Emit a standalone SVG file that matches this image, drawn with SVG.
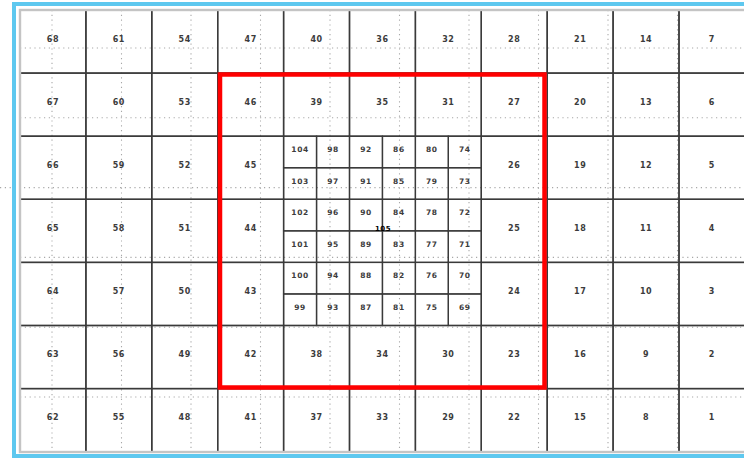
<svg xmlns="http://www.w3.org/2000/svg" width="744" height="461" viewBox="0 0 744 461">
<style>
.cell rect{fill:none;stroke:#3a3a3a;stroke-width:1.4}
.cell text{font-family:"DejaVu Sans","Liberation Sans",sans-serif;font-size:8px;font-weight:bold;fill:#3c3c3c;text-anchor:middle;letter-spacing:0.6px}
.sub rect{fill:none;stroke:#3a3a3a;stroke-width:1.3}
.sub text{font-family:"DejaVu Sans","Liberation Sans",sans-serif;font-size:7.5px;font-weight:bold;fill:#3c3c3c;text-anchor:middle;letter-spacing:0.6px}
.dot{stroke:#a8a8a8;stroke-width:1.1;stroke-dasharray:1.2 3.6;fill:none}
</style>
<rect x="0" y="0" width="744" height="461" fill="#ffffff"/>
<g id="background-grid">
<path class="dot" d="M52 10V452M121.5 10V452M191 10V452M260.5 10V452M330 10V452M399.5 10V452M469 10V452M538.5 10V452M608 10V452M677.5 10V452"/>
<path class="dot" d="M20 48H744M20 117.8H744M0 187.6H744M20 257.4H744M20 327.2H744M20 397H744"/>
</g>
<g id="cells">
<g id="cell-68" class="cell"><rect x="20" y="10" width="65.9" height="63.1"/><text x="52.95" y="42">68</text></g>
<g id="cell-67" class="cell"><rect x="20" y="73.1" width="65.9" height="63.1"/><text x="52.95" y="105">67</text></g>
<g id="cell-66" class="cell"><rect x="20" y="136.2" width="65.9" height="63.1"/><text x="52.95" y="168">66</text></g>
<g id="cell-65" class="cell"><rect x="20" y="199.3" width="65.9" height="63.1"/><text x="52.95" y="231">65</text></g>
<g id="cell-64" class="cell"><rect x="20" y="262.4" width="65.9" height="63.1"/><text x="52.95" y="294">64</text></g>
<g id="cell-63" class="cell"><rect x="20" y="325.5" width="65.9" height="63.1"/><text x="52.95" y="357">63</text></g>
<g id="cell-62" class="cell"><rect x="20" y="388.6" width="65.9" height="63.1"/><text x="52.95" y="420">62</text></g>

<g id="cell-61" class="cell"><rect x="85.9" y="10" width="65.9" height="63.1"/><text x="118.85" y="42">61</text></g>
<g id="cell-60" class="cell"><rect x="85.9" y="73.1" width="65.9" height="63.1"/><text x="118.85" y="105">60</text></g>
<g id="cell-59" class="cell"><rect x="85.9" y="136.2" width="65.9" height="63.1"/><text x="118.85" y="168">59</text></g>
<g id="cell-58" class="cell"><rect x="85.9" y="199.3" width="65.9" height="63.1"/><text x="118.85" y="231">58</text></g>
<g id="cell-57" class="cell"><rect x="85.9" y="262.4" width="65.9" height="63.1"/><text x="118.85" y="294">57</text></g>
<g id="cell-56" class="cell"><rect x="85.9" y="325.5" width="65.9" height="63.1"/><text x="118.85" y="357">56</text></g>
<g id="cell-55" class="cell"><rect x="85.9" y="388.6" width="65.9" height="63.1"/><text x="118.85" y="420">55</text></g>

<g id="cell-54" class="cell"><rect x="151.8" y="10" width="65.9" height="63.1"/><text x="184.75" y="42">54</text></g>
<g id="cell-53" class="cell"><rect x="151.8" y="73.1" width="65.9" height="63.1"/><text x="184.75" y="105">53</text></g>
<g id="cell-52" class="cell"><rect x="151.8" y="136.2" width="65.9" height="63.1"/><text x="184.75" y="168">52</text></g>
<g id="cell-51" class="cell"><rect x="151.8" y="199.3" width="65.9" height="63.1"/><text x="184.75" y="231">51</text></g>
<g id="cell-50" class="cell"><rect x="151.8" y="262.4" width="65.9" height="63.1"/><text x="184.75" y="294">50</text></g>
<g id="cell-49" class="cell"><rect x="151.8" y="325.5" width="65.9" height="63.1"/><text x="184.75" y="357">49</text></g>
<g id="cell-48" class="cell"><rect x="151.8" y="388.6" width="65.9" height="63.1"/><text x="184.75" y="420">48</text></g>

<g id="cell-47" class="cell"><rect x="217.7" y="10" width="65.9" height="63.1"/><text x="250.65" y="42">47</text></g>
<g id="cell-46" class="cell"><rect x="217.7" y="73.1" width="65.9" height="63.1"/><text x="250.65" y="105">46</text></g>
<g id="cell-45" class="cell"><rect x="217.7" y="136.2" width="65.9" height="63.1"/><text x="250.65" y="168">45</text></g>
<g id="cell-44" class="cell"><rect x="217.7" y="199.3" width="65.9" height="63.1"/><text x="250.65" y="231">44</text></g>
<g id="cell-43" class="cell"><rect x="217.7" y="262.4" width="65.9" height="63.1"/><text x="250.65" y="294">43</text></g>
<g id="cell-42" class="cell"><rect x="217.7" y="325.5" width="65.9" height="63.1"/><text x="250.65" y="357">42</text></g>
<g id="cell-41" class="cell"><rect x="217.7" y="388.6" width="65.9" height="63.1"/><text x="250.65" y="420">41</text></g>

<g id="cell-40" class="cell"><rect x="283.6" y="10" width="65.9" height="63.1"/><text x="316.55" y="42">40</text></g>
<g id="cell-39" class="cell"><rect x="283.6" y="73.1" width="65.9" height="63.1"/><text x="316.55" y="105">39</text></g>
<g id="cell-38" class="cell"><rect x="283.6" y="325.5" width="65.9" height="63.1"/><text x="316.55" y="357">38</text></g>
<g id="cell-37" class="cell"><rect x="283.6" y="388.6" width="65.9" height="63.1"/><text x="316.55" y="420">37</text></g>

<g id="cell-36" class="cell"><rect x="349.5" y="10" width="65.9" height="63.1"/><text x="382.45" y="42">36</text></g>
<g id="cell-35" class="cell"><rect x="349.5" y="73.1" width="65.9" height="63.1"/><text x="382.45" y="105">35</text></g>
<g id="cell-34" class="cell"><rect x="349.5" y="325.5" width="65.9" height="63.1"/><text x="382.45" y="357">34</text></g>
<g id="cell-33" class="cell"><rect x="349.5" y="388.6" width="65.9" height="63.1"/><text x="382.45" y="420">33</text></g>

<g id="cell-32" class="cell"><rect x="415.4" y="10" width="65.9" height="63.1"/><text x="448.35" y="42">32</text></g>
<g id="cell-31" class="cell"><rect x="415.4" y="73.1" width="65.9" height="63.1"/><text x="448.35" y="105">31</text></g>
<g id="cell-30" class="cell"><rect x="415.4" y="325.5" width="65.9" height="63.1"/><text x="448.35" y="357">30</text></g>
<g id="cell-29" class="cell"><rect x="415.4" y="388.6" width="65.9" height="63.1"/><text x="448.35" y="420">29</text></g>

<g id="cell-28" class="cell"><rect x="481.3" y="10" width="65.9" height="63.1"/><text x="514.25" y="42">28</text></g>
<g id="cell-27" class="cell"><rect x="481.3" y="73.1" width="65.9" height="63.1"/><text x="514.25" y="105">27</text></g>
<g id="cell-26" class="cell"><rect x="481.3" y="136.2" width="65.9" height="63.1"/><text x="514.25" y="168">26</text></g>
<g id="cell-25" class="cell"><rect x="481.3" y="199.3" width="65.9" height="63.1"/><text x="514.25" y="231">25</text></g>
<g id="cell-24" class="cell"><rect x="481.3" y="262.4" width="65.9" height="63.1"/><text x="514.25" y="294">24</text></g>
<g id="cell-23" class="cell"><rect x="481.3" y="325.5" width="65.9" height="63.1"/><text x="514.25" y="357">23</text></g>
<g id="cell-22" class="cell"><rect x="481.3" y="388.6" width="65.9" height="63.1"/><text x="514.25" y="420">22</text></g>

<g id="cell-21" class="cell"><rect x="547.2" y="10" width="65.9" height="63.1"/><text x="580.15" y="42">21</text></g>
<g id="cell-20" class="cell"><rect x="547.2" y="73.1" width="65.9" height="63.1"/><text x="580.15" y="105">20</text></g>
<g id="cell-19" class="cell"><rect x="547.2" y="136.2" width="65.9" height="63.1"/><text x="580.15" y="168">19</text></g>
<g id="cell-18" class="cell"><rect x="547.2" y="199.3" width="65.9" height="63.1"/><text x="580.15" y="231">18</text></g>
<g id="cell-17" class="cell"><rect x="547.2" y="262.4" width="65.9" height="63.1"/><text x="580.15" y="294">17</text></g>
<g id="cell-16" class="cell"><rect x="547.2" y="325.5" width="65.9" height="63.1"/><text x="580.15" y="357">16</text></g>
<g id="cell-15" class="cell"><rect x="547.2" y="388.6" width="65.9" height="63.1"/><text x="580.15" y="420">15</text></g>

<g id="cell-14" class="cell"><rect x="613.1" y="10" width="65.9" height="63.1"/><text x="646.05" y="42">14</text></g>
<g id="cell-13" class="cell"><rect x="613.1" y="73.1" width="65.9" height="63.1"/><text x="646.05" y="105">13</text></g>
<g id="cell-12" class="cell"><rect x="613.1" y="136.2" width="65.9" height="63.1"/><text x="646.05" y="168">12</text></g>
<g id="cell-11" class="cell"><rect x="613.1" y="199.3" width="65.9" height="63.1"/><text x="646.05" y="231">11</text></g>
<g id="cell-10" class="cell"><rect x="613.1" y="262.4" width="65.9" height="63.1"/><text x="646.05" y="294">10</text></g>
<g id="cell-9" class="cell"><rect x="613.1" y="325.5" width="65.9" height="63.1"/><text x="646.05" y="357">9</text></g>
<g id="cell-8" class="cell"><rect x="613.1" y="388.6" width="65.9" height="63.1"/><text x="646.05" y="420">8</text></g>

<g id="cell-7" class="cell"><rect x="679" y="10" width="65.9" height="63.1"/><text x="711.95" y="42">7</text></g>
<g id="cell-6" class="cell"><rect x="679" y="73.1" width="65.9" height="63.1"/><text x="711.95" y="105">6</text></g>
<g id="cell-5" class="cell"><rect x="679" y="136.2" width="65.9" height="63.1"/><text x="711.95" y="168">5</text></g>
<g id="cell-4" class="cell"><rect x="679" y="199.3" width="65.9" height="63.1"/><text x="711.95" y="231">4</text></g>
<g id="cell-3" class="cell"><rect x="679" y="262.4" width="65.9" height="63.1"/><text x="711.95" y="294">3</text></g>
<g id="cell-2" class="cell"><rect x="679" y="325.5" width="65.9" height="63.1"/><text x="711.95" y="357">2</text></g>
<g id="cell-1" class="cell"><rect x="679" y="388.6" width="65.9" height="63.1"/><text x="711.95" y="420">1</text></g>
</g>
<g id="subcells">
<g id="sub-104" class="sub"><rect x="283.6" y="136.2" width="32.95" height="31.55"/><text x="300.08" y="152">104</text></g>
<g id="sub-103" class="sub"><rect x="283.6" y="167.75" width="32.95" height="31.55"/><text x="300.08" y="184">103</text></g>
<g id="sub-102" class="sub"><rect x="283.6" y="199.3" width="32.95" height="31.55"/><text x="300.08" y="215">102</text></g>
<g id="sub-101" class="sub"><rect x="283.6" y="230.85" width="32.95" height="31.55"/><text x="300.08" y="247">101</text></g>
<g id="sub-100" class="sub"><rect x="283.6" y="262.4" width="32.95" height="31.55"/><text x="300.08" y="278">100</text></g>
<g id="sub-99" class="sub"><rect x="283.6" y="293.95" width="32.95" height="31.55"/><text x="300.08" y="310">99</text></g>

<g id="sub-98" class="sub"><rect x="316.55" y="136.2" width="32.95" height="31.55"/><text x="333.03" y="152">98</text></g>
<g id="sub-97" class="sub"><rect x="316.55" y="167.75" width="32.95" height="31.55"/><text x="333.03" y="184">97</text></g>
<g id="sub-96" class="sub"><rect x="316.55" y="199.3" width="32.95" height="31.55"/><text x="333.03" y="215">96</text></g>
<g id="sub-95" class="sub"><rect x="316.55" y="230.85" width="32.95" height="31.55"/><text x="333.03" y="247">95</text></g>
<g id="sub-94" class="sub"><rect x="316.55" y="262.4" width="32.95" height="31.55"/><text x="333.03" y="278">94</text></g>
<g id="sub-93" class="sub"><rect x="316.55" y="293.95" width="32.95" height="31.55"/><text x="333.03" y="310">93</text></g>

<g id="sub-92" class="sub"><rect x="349.5" y="136.2" width="32.95" height="31.55"/><text x="365.98" y="152">92</text></g>
<g id="sub-91" class="sub"><rect x="349.5" y="167.75" width="32.95" height="31.55"/><text x="365.98" y="184">91</text></g>
<g id="sub-90" class="sub"><rect x="349.5" y="199.3" width="32.95" height="31.55"/><text x="365.98" y="215">90</text></g>
<g id="sub-89" class="sub"><rect x="349.5" y="230.85" width="32.95" height="31.55"/><text x="365.98" y="247">89</text></g>
<g id="sub-88" class="sub"><rect x="349.5" y="262.4" width="32.95" height="31.55"/><text x="365.98" y="278">88</text></g>
<g id="sub-87" class="sub"><rect x="349.5" y="293.95" width="32.95" height="31.55"/><text x="365.98" y="310">87</text></g>

<g id="sub-86" class="sub"><rect x="382.45" y="136.2" width="32.95" height="31.55"/><text x="398.93" y="152">86</text></g>
<g id="sub-85" class="sub"><rect x="382.45" y="167.75" width="32.95" height="31.55"/><text x="398.93" y="184">85</text></g>
<g id="sub-84" class="sub"><rect x="382.45" y="199.3" width="32.95" height="31.55"/><text x="398.93" y="215">84</text></g>
<g id="sub-83" class="sub"><rect x="382.45" y="230.85" width="32.95" height="31.55"/><text x="398.93" y="247">83</text></g>
<g id="sub-82" class="sub"><rect x="382.45" y="262.4" width="32.95" height="31.55"/><text x="398.93" y="278">82</text></g>
<g id="sub-81" class="sub"><rect x="382.45" y="293.95" width="32.95" height="31.55"/><text x="398.93" y="310">81</text></g>

<g id="sub-80" class="sub"><rect x="415.4" y="136.2" width="32.95" height="31.55"/><text x="431.88" y="152">80</text></g>
<g id="sub-79" class="sub"><rect x="415.4" y="167.75" width="32.95" height="31.55"/><text x="431.88" y="184">79</text></g>
<g id="sub-78" class="sub"><rect x="415.4" y="199.3" width="32.95" height="31.55"/><text x="431.88" y="215">78</text></g>
<g id="sub-77" class="sub"><rect x="415.4" y="230.85" width="32.95" height="31.55"/><text x="431.88" y="247">77</text></g>
<g id="sub-76" class="sub"><rect x="415.4" y="262.4" width="32.95" height="31.55"/><text x="431.88" y="278">76</text></g>
<g id="sub-75" class="sub"><rect x="415.4" y="293.95" width="32.95" height="31.55"/><text x="431.88" y="310">75</text></g>

<g id="sub-74" class="sub"><rect x="448.35" y="136.2" width="32.95" height="31.55"/><text x="464.83" y="152">74</text></g>
<g id="sub-73" class="sub"><rect x="448.35" y="167.75" width="32.95" height="31.55"/><text x="464.83" y="184">73</text></g>
<g id="sub-72" class="sub"><rect x="448.35" y="199.3" width="32.95" height="31.55"/><text x="464.83" y="215">72</text></g>
<g id="sub-71" class="sub"><rect x="448.35" y="230.85" width="32.95" height="31.55"/><text x="464.83" y="247">71</text></g>
<g id="sub-70" class="sub"><rect x="448.35" y="262.4" width="32.95" height="31.55"/><text x="464.83" y="278">70</text></g>
<g id="sub-69" class="sub"><rect x="448.35" y="293.95" width="32.95" height="31.55"/><text x="464.83" y="310">69</text></g>
</g>
<g id="center-label">
<text x="383" y="231" font-family="DejaVu Sans, Liberation Sans, sans-serif" font-size="7" font-weight="bold" fill="#000" text-anchor="middle" letter-spacing="0.5">105</text>
</g>
<g id="frame">
<rect x="20" y="10" width="730" height="442" fill="none" stroke="#c4c4c4" stroke-width="2.4"/>
<rect x="14" y="4" width="740" height="452" fill="none" stroke="#5ec8ef" stroke-width="4"/>
</g>
<g id="selection">
<rect x="220" y="74.5" width="324.5" height="313" fill="none" stroke="#ff0000" stroke-width="4.5"/>
</g>
<g id="connectors"/>
</svg>
